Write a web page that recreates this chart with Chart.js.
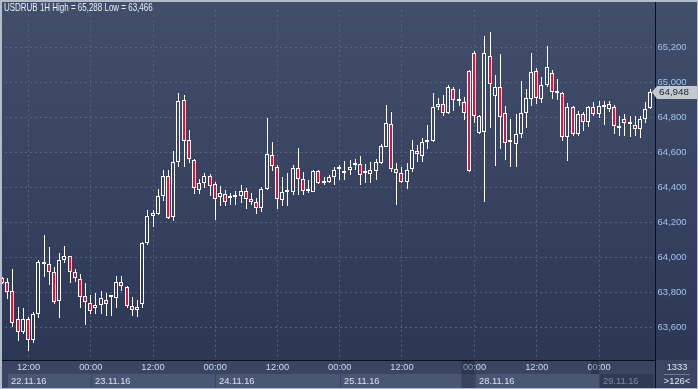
<!DOCTYPE html>
<html>
<head>
<meta charset="utf-8">
<script src="https://cdn.jsdelivr.net/npm/chart.js@4/dist/chart.umd.min.js"></script>
<style>
  html, body { margin: 0; padding: 0; background: #2f3b57; }
  canvas { display: block; }
</style>
</head>
<body>
<canvas id="chart" width="698" height="389"></canvas>
<script>
// hourly candles, USDRUB 1H
const days = ["22.11.16", "23.11.16", "24.11.16", "25.11.16", "27.11.16", "28.11.16", "29.11.16"];
const dayHours = [[7, 23], [0, 23], [0, 23], [0, 23], [22, 23], [0, 23], [0, 10]];

const opens = [
  63886, 63862, 63812, 63649, 63576, 63649, 63532, 63677, 63974, 63963,
  63918, 63754, 63985, 64008, 63918, 63879, 63784, 63739, 63711, 63729,
  63761, 63773, 63770, 63862, 63830, 63722, 63703, 63737, 64082, 64238,
  64252, 64355, 64467, 64230, 64546, 64900, 64671, 64559, 64387, 64424,
  64467, 64418, 64344, 64362, 64344, 64344, 64350, 64383, 64333, 64319,
  64284, 64394, 64585, 64518, 64327, 64374, 64378, 64512, 64448, 64383,
  64375, 64493, 64428, 64434, 64462, 64509, 64484, 64499, 64529, 64536,
  64482, 64476, 64495, 64543, 64633, 64764, 64506, 64484, 64434, 64504,
  64611, 64583, 64663, 64667, 64859, 64876, 64826, 64966, 64895, 64891,
  65067, 65166, 64714, 64719, 65152, 64924, 64973, 64826, 64660, 64652,
  64706, 64828, 64904, 65064, 64906, 64988, 65052, 64945, 64943, 64691,
  64859, 64708, 64820, 64775, 64859, 64820, 64859, 64850, 64859, 64753,
  64792, 64768, 64758, 64736, 64792, 64854
];
const highs = [
  63892, 63882, 63933, 63718, 63714, 63662, 63690, 63985, 64129, 64060,
  63948, 64028, 64066, 64012, 63933, 63905, 63854, 63789, 63798, 63812,
  63798, 63784, 63898, 63896, 63841, 63778, 63761, 64090, 64273, 64273,
  64394, 64499, 64499, 64607, 64938, 64928, 64730, 64564, 64448, 64484,
  64480, 64430, 64409, 64387, 64368, 64381, 64415, 64396, 64368, 64340,
  64402, 64798, 64658, 64530, 64462, 64484, 64527, 64626, 64490, 64443,
  64499, 64499, 64462, 64470, 64518, 64527, 64555, 64559, 64564, 64583,
  64536, 64546, 64564, 64652, 64872, 64831, 64542, 64518, 64540, 64671,
  64644, 64686, 64755, 64938, 64910, 64928, 64984, 64975, 64961, 64919,
  65070, 65179, 64816, 65268, 65288, 65044, 65162, 64867, 64794, 64820,
  65009, 64966, 65171, 65081, 65031, 65208, 65069, 65020, 64945, 64882,
  64868, 64835, 64831, 64868, 64891, 64895, 64895, 64895, 64872, 64807,
  64820, 64807, 64807, 64807, 64887, 64962
];
const lows = [
  63850, 63765, 63602, 63524, 63567, 63466, 63511, 63653, 63888, 63845,
  63735, 63653, 63972, 63854, 63860, 63711, 63617, 63677, 63677, 63681,
  63668, 63668, 63714, 63808, 63714, 63668, 63664, 63714, 64073, 64178,
  64246, 64322, 64222, 64210, 64518, 64518, 64543, 64364, 64364, 64400,
  64355, 64218, 64297, 64294, 64302, 64302, 64312, 64280, 64302, 64250,
  64262, 64388, 64495, 64280, 64294, 64294, 64359, 64359, 64359, 64372,
  64374, 64418, 64415, 64424, 64415, 64443, 64443, 64471, 64499, 64415,
  64424, 64428, 64443, 64536, 64630, 64490, 64303, 64424, 64390, 64490,
  64546, 64546, 64620, 64663, 64844, 64807, 64820, 64840, 64866, 64788,
  64490, 64770, 64708, 64316, 64742, 64521, 64620, 64560, 64518, 64518,
  64684, 64742, 64867, 64876, 64882, 64975, 64907, 64900, 64667, 64555,
  64695, 64695, 64723, 64745, 64807, 64798, 64760, 64832, 64704, 64695,
  64695, 64691, 64695, 64686, 64770, 64850
];
const closes = [
  63854, 63804, 63627, 63576, 63649, 63532, 63677, 63974, 63963, 63918,
  63748, 63985, 64008, 63918, 63885, 63778, 63745, 63694, 63728, 63770,
  63733, 63778, 63864, 63840, 63724, 63703, 63717, 64086, 64238, 64254,
  64355, 64467, 64228, 64546, 64895, 64667, 64562, 64400, 64424, 64467,
  64411, 64336, 64368, 64316, 64342, 64357, 64383, 64334, 64316, 64282,
  64394, 64590, 64523, 64334, 64374, 64383, 64512, 64452, 64383, 64380,
  64495, 64428, 64439, 64462, 64503, 64512, 64495, 64518, 64536, 64473,
  64486, 64499, 64546, 64639, 64770, 64504, 64484, 64434, 64503, 64615,
  64592, 64658, 64670, 64859, 64876, 64826, 64973, 64898, 64893, 64826,
  64495, 64811, 64811, 65171, 64990, 64973, 64803, 64654, 64658, 64708,
  64824, 64912, 65062, 64913, 64988, 65089, 64947, 64943, 64691, 64859,
  64708, 64820, 64775, 64861, 64820, 64868, 64868, 64876, 64753, 64740,
  64770, 64766, 64736, 64792, 64848, 64948
];

const yTicks = [63600, 63800, 64000, 64200, 64400, 64600, 64800, 65000, 65200];
const yMin = 63416, yMax = 65416;
const lastPrice = 64948;
const title = "USDRUB 1H High = 65,288 Low = 63,466";
const barCount = "1333", shownBars = ">126<";

// hour labels + date of each candle
const times = [], dates = [];
days.forEach((d, k) => {
  for (let h = dayHours[k][0]; h <= dayHours[k][1]; h++) {
    times.push((h < 10 ? "0" : "") + h + ":00");
    dates.push(d);
  }
});

const upColor = "rgba(0,0,0,0)";
const downColor = "#e0123c";
const gridColor = "#56647f";
const font = '"Liberation Sans", Arial, sans-serif';

function fmt(v) {
  const s = String(Math.round(v));
  return s.slice(0, s.length - 3) + "," + s.slice(-3);
}

const bodies = opens.map((o, i) => [o, closes[i]]);
const upperWicks = opens.map((o, i) => [Math.max(o, closes[i]), highs[i]]);
const lowerWicks = opens.map((o, i) => [lows[i], Math.min(o, closes[i])]);
const bodyColors = opens.map((o, i) => closes[i] < o ? downColor : upColor);

const backgroundPlugin = {
  id: "background",
  beforeDraw(chart) {
    const ctx = chart.ctx;
    const a = chart.chartArea;
    ctx.save();
    ctx.fillStyle = "#3a4661";
    ctx.fillRect(0, 0, chart.width, chart.height);
    const g = ctx.createLinearGradient(0, 0, 0, a.bottom);
    g.addColorStop(0, "#424f6b");
    g.addColorStop(1, "#2c3756");
    ctx.fillStyle = g;
    ctx.fillRect(0, 0, chart.width, a.bottom);
    ctx.restore();
  }
};

// put candles on whole pixels so they stay crisp
const snapPlugin = {
  id: "snap",
  afterDatasetsUpdate(chart) {
    chart.data.datasets.forEach((ds, di) => {
      chart.getDatasetMeta(di).data.forEach(el => {
        const p = Math.floor(el.x);
        el.x = ds.barThickness === 1 ? p + 0.5 : p;
        el.y = Math.round(el.y);
        el.base = Math.round(el.base);
      });
    });
  }
};

const overlayPlugin = {
  id: "overlay",
  afterDraw(chart) {
    const ctx = chart.ctx;
    const a = chart.chartArea;
    const x = chart.scales.x, y = chart.scales.y;
    ctx.save();

    // date boxes under the hour labels
    const boxes = [];
    dates.forEach((d, i) => {
      if ((i === 0 || d !== dates[i - 1]) && d !== "27.11.16") {
        boxes.push({ label: d, left: times[i] === "00:00" ? Math.round(x.getPixelForValue(i)) : 7 });
      }
    });
    boxes.forEach((b, k) => {
      const right = k < boxes.length - 1 ? boxes[k + 1].left : a.right;
      const last = k === boxes.length - 1;
      ctx.fillStyle = last ? "#2f3a55" : "#4a5774";
      ctx.fillRect(b.left + 1, 374, right - b.left - 1, 14);
      ctx.fillStyle = last ? "#7d8ba6" : "#d6e2f2";
      ctx.font = "9.3px " + font;
      ctx.textBaseline = "middle";
      ctx.textAlign = "left";
      ctx.fillText(b.label, b.left + 4, 381);
    });

    // weekend / current-day shading in the time strip
    const wk = x.getPixelForValue(dates.indexOf("27.11.16")) - 2.6;
    ctx.fillStyle = "rgba(20,28,48,0.35)";
    ctx.fillRect(wk, 361, x.getPixelForValue(dates.indexOf("28.11.16")) - wk, 27);
    ctx.fillRect(boxes[boxes.length - 1].left - 8, 361, 8, 13);

    // separators
    ctx.fillStyle = "#0b0f18";
    ctx.fillRect(0, a.bottom, 655, 1);
    ctx.fillRect(655, 0, 1, chart.height);

    // title (narrow face)
    ctx.fillStyle = "#e9eef6";
    ctx.font = "10.5px " + font;
    ctx.textAlign = "left";
    ctx.textBaseline = "middle";
    ctx.save();
    ctx.translate(4, 8.5);
    ctx.scale(0.76, 1);
    ctx.fillText(title, 0, 0);
    ctx.restore();

    // last price marker
    const py = Math.round(y.getPixelForValue(lastPrice));
    ctx.fillStyle = "#c4c8cf";
    ctx.beginPath();
    ctx.moveTo(652, py);
    ctx.lineTo(657, py - 6);
    ctx.lineTo(697, py - 6);
    ctx.lineTo(697, py + 7);
    ctx.lineTo(657, py + 7);
    ctx.closePath();
    ctx.fill();
    ctx.fillStyle = "#1b2233";
    ctx.font = "9.8px " + font;
    ctx.fillText(fmt(lastPrice), 659, py + 0.5);

    // bar counter
    ctx.fillStyle = "#dfe7f3";
    ctx.textAlign = "center";
    ctx.font = "9.3px " + font;
    ctx.fillText(barCount, 677, 367);
    ctx.fillStyle = "#6f7d98";
    ctx.fillRect(664, 374, 26, 1);
    ctx.fillStyle = "#dfe7f3";
    ctx.fillText(shownBars, 677, 381);

    // outer frame
    ctx.fillStyle = "#b3bccb";
    ctx.fillRect(0, 0, chart.width, 2);
    ctx.fillRect(0, 0, 2, chart.height);
    ctx.fillRect(0, chart.height - 1, chart.width, 1);
    ctx.fillRect(chart.width - 1, 0, 1, chart.height);
    ctx.restore();
  }
};

const ctx = document.getElementById("chart").getContext("2d");
new Chart(ctx, {
  type: "bar",
  data: {
    labels: times,
    datasets: [
      { data: upperWicks, backgroundColor: "#ffffff", barThickness: 1, grouped: false, order: 2, inflateAmount: 0 },
      { data: lowerWicks, backgroundColor: "#ffffff", barThickness: 1, grouped: false, order: 2, inflateAmount: 0 },
      {
        data: bodies,
        backgroundColor: bodyColors,
        borderColor: "#ffffff",
        borderWidth: 1,
        borderSkipped: false,
        barThickness: 4,
        minBarLength: 2,
        grouped: false,
        order: 1,
        inflateAmount: 0
      }
    ]
  },
  options: {
    responsive: false,
    animation: false,
    layout: { padding: { top: 2, left: 0, right: 0, bottom: 0 } },
    plugins: { legend: { display: false }, tooltip: { enabled: false } },
    scales: {
      x: {
        offset: true,
        grid: { offset: false, color: gridColor, drawTicks: false },
        border: { display: false, dash: [2, 3] },
        ticks: {
          autoSkip: false,
          maxRotation: 0,
          padding: 2,
          color: "#c9dbf1",
          font: { family: font, size: 9.3 }
        },
        afterBuildTicks: s => {
          s.ticks = s.ticks.filter(t => times[t.value] === "00:00" || times[t.value] === "12:00");
        },
        afterFit: s => { s.height = 29; }
      },
      y: {
        position: "right",
        min: yMin,
        max: yMax,
        grid: { color: gridColor, drawTicks: false },
        border: { display: false, dash: [2, 3] },
        ticks: {
          padding: 4,
          color: "#9fc3ec",
          font: { family: font, size: 9.5 },
          callback: v => fmt(v)
        },
        afterBuildTicks: s => { s.ticks = yTicks.map(v => ({ value: v })); },
        afterFit: s => { s.width = 44.5; }
      }
    }
  },
  plugins: [backgroundPlugin, snapPlugin, overlayPlugin]
});
</script>
</body>
</html>
